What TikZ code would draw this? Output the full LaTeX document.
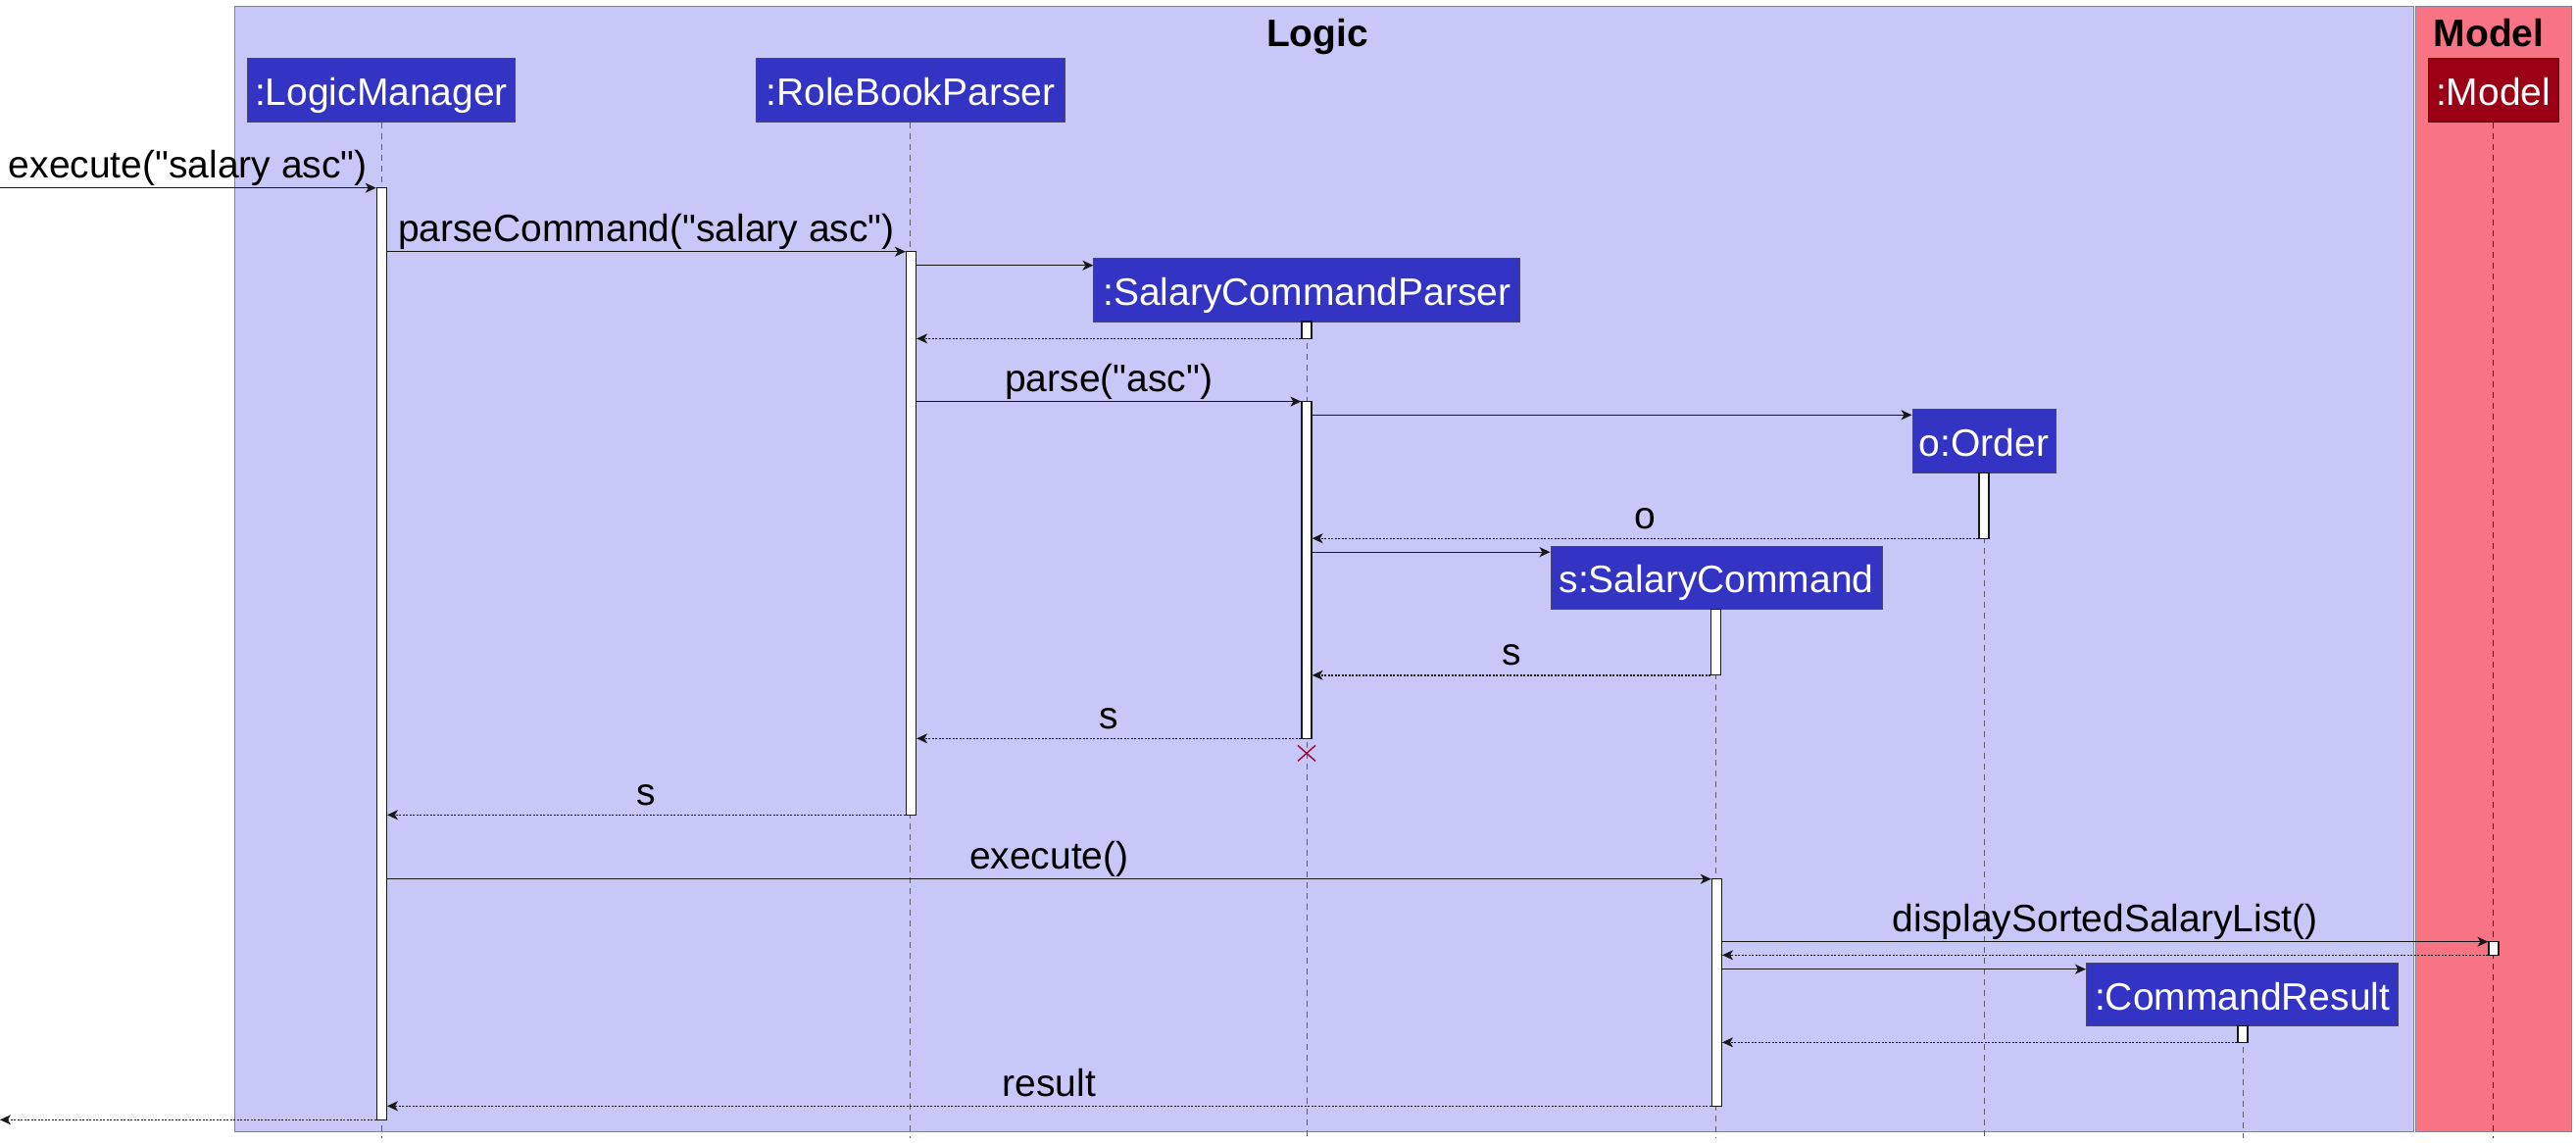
\documentclass[tikz,border=0pt]{standalone}
\usepackage{fontspec}
\setmainfont{Liberation Sans}[Ligatures=TeXOff]
\usetikzlibrary{arrows.meta}
\definecolor{logicbg}{RGB}{200,200,248}
\definecolor{modelbg}{RGB}{248,115,132}
\definecolor{partblue}{RGB}{51,51,196}
\definecolor{partred}{RGB}{155,0,20}
\definecolor{partborder}{RGB}{70,70,110}
\definecolor{groupborder}{RGB}{130,130,150}
\definecolor{lifegrey}{RGB}{90,90,110}
\definecolor{arrowc}{RGB}{24,24,24}
\definecolor{destroyc}{RGB}{168,0,54}
\begin{document}
\begin{tikzpicture}[x=1pt,y=-1pt,
  font=\fontsize{39}{45}\selectfont,
  part/.style={draw=partborder, line width=1pt, fill=partblue, text=white,
    minimum height=65pt, inner sep=0pt, text height=31pt, text depth=0pt},
  actbar/.style={draw=arrowc, fill=white, line width=1.2pt, minimum width=10pt, inner sep=0pt},
  lifeline/.style={draw=lifegrey, line width=0.9pt, dash pattern=on 6pt off 5pt},
  msg/.style={draw=arrowc, line width=1.4pt, -{Stealth[length=11pt,width=10pt,inset=3pt]}},
  ret/.style={msg, dash pattern=on 2pt off 1.5pt},
  lbl/.style={anchor=base, yshift=10pt, text=black}
]
\useasboundingbox (0,0) rectangle (2628,1166);
% groups
\node[draw=groupborder, line width=1.2pt, fill=logicbg, inner sep=0pt, anchor=north west,
  minimum width=2223pt, minimum height=1148pt] (logicgrp) at (238.5,6) {};
\node[draw=groupborder, line width=1.2pt, fill=modelbg, inner sep=0pt, anchor=north west,
  minimum width=159pt, minimum height=1148pt] (modelgrp) at (2464,6) {};
\node[anchor=base, font=\fontsize{39}{45}\selectfont\bfseries] (logictitle) at (1344,48) {Logic};
\node[anchor=base, font=\fontsize{39}{45}\selectfont\bfseries] (modeltitle) at (2539,48) {Model};
% row coordinates
\coordinate (r1) at (0,191.7);
\coordinate (r2) at (0,256.7);
\coordinate (r3) at (0,270.7);
\coordinate (r4) at (0,345.4);
\coordinate (r5) at (0,409.6);
\coordinate (r6) at (0,423.3);
\coordinate (r7) at (0,549.2);
\coordinate (r8) at (0,563.2);
\coordinate (r9) at (0,688.8);
\coordinate (r10) at (0,753.3);
\coordinate (r12) at (0,831.3);
\coordinate (r13) at (0,896.7);
\coordinate (r14) at (0,960.7);
\coordinate (r15) at (0,974.3);
\coordinate (r16) at (0,988.7);
\coordinate (r17) at (0,1063.3);
\coordinate (r18) at (0,1128.3);
\coordinate (r19) at (0,1142.3);
\coordinate (inL) at (0,191.7);
\coordinate (outL) at (0,1142.3);
% participant positions
\path
  (389,92.5) coordinate (lmc)
  (928.8,92.5) coordinate (rbc)
  (1333.4,296) coordinate (scpc)
  (2024,450) coordinate (ordc)
  (1751,589.2) coordinate (scc)
  (2287.7,1014.5) coordinate (crc)
  (2543.5,92.5) coordinate (mdc);
% lifelines
\draw[lifeline] (389,125) -- (389,1161);
\draw[lifeline] (928.8,125) -- (928.8,1161);
\draw[lifeline] (1333,328) -- (1333,1161);
\draw[lifeline] (2024,482) -- (2024,1161);
\draw[lifeline] (1750.6,621) -- (1750.6,1161);
\draw[lifeline] (2288,1046) -- (2288,1161);
\draw[lifeline, draw=partred!70!black] (2543.5,125) -- (2543.5,1161);
% participants
\node[part, minimum width=273.5pt] (lm) at (lmc) {:LogicManager};
\node[part, minimum width=314.4pt] (rb) at (rbc) {:RoleBookParser};
\node[part, minimum width=435pt, minimum height=64pt] (scp) at (scpc) {:SalaryCommandParser};
\node[part, minimum width=146pt, minimum height=64.5pt] (ord) at (ordc) {o:Order};
\node[part, minimum width=338pt, minimum height=64.4pt] (sc) at (scc) {s:SalaryCommand};
\node[part, minimum width=318.5pt, minimum height=64.4pt] (cr) at (crc) {:CommandResult};
\node[part, fill=partred, draw=partred!60!black, minimum width=133pt] (md) at (mdc) {:Model};
% activations
\node[actbar, minimum height=950.6pt] (lmA) at (389.3,667) {};
\node[actbar, minimum height=574.6pt] (rbA) at (929.5,544) {};
\node[actbar, minimum height=17.4pt] (scpA1) at (1333,336.7) {};
\node[actbar, minimum height=343.7pt] (scpA2) at (1333,581.45) {};
\node[actbar, minimum height=67pt] (ordA) at (2024,515.7) {};
\node[actbar, minimum height=67.4pt] (scA1) at (1750.6,655.1) {};
\node[actbar, minimum height=231.6pt] (scA2) at (1751.4,1012.5) {};
\node[actbar, minimum height=13.6pt] (mdA) at (2544,967.5) {};
\node[actbar, minimum height=16.6pt] (crA) at (2288,1055) {};
% messages
\draw[msg] (inL) -- (lmA.west |- r1) node[midway, lbl] {execute("salary asc")};
\draw[msg] (lmA.east |- r2) -- (rbA.west |- r2) node[midway, lbl] {parseCommand("salary asc")};
\draw[msg] (rbA.east |- r3) -- (scp.west |- r3);
\draw[ret] (scpA1.west |- r4) -- (rbA.east |- r4);
\draw[msg] (rbA.east |- r5) -- (scpA2.west |- r5) node[midway, lbl] {parse("asc")};
\draw[msg] (scpA2.east |- r6) -- (ord.west |- r6);
\draw[ret] (ordA.west |- r7) -- (scpA2.east |- r7) node[midway, lbl] {o};
\draw[msg] (scpA2.east |- r8) -- (sc.west |- r8);
\draw[ret] (scA1.west |- r9) -- (scpA2.east |- r9) node[midway, lbl] {s};
\draw[ret] (scpA2.west |- r10) -- (rbA.east |- r10) node[midway, lbl] {s};
\draw[ret] (rbA.west |- r12) -- (lmA.east |- r12) node[midway, lbl] {s};
\draw[msg] (lmA.east |- r13) -- (scA2.west |- r13) node[midway, lbl] {execute()};
\draw[msg] (scA2.east |- r14) -- (mdA.west |- r14) node[midway, lbl] {displaySortedSalaryList()};
\draw[ret] (mdA.west |- r15) -- (scA2.east |- r15);
\draw[msg] (scA2.east |- r16) -- (cr.west |- r16);
\draw[ret] (crA.west |- r17) -- (scA2.east |- r17);
\draw[ret] (scA2.west |- r18) -- (lmA.east |- r18) node[midway, lbl] {result};
\draw[ret] (lmA.west |- r19) -- (outL);
% destroy
\coordinate (dx) at (1333,768.4);
\draw[destroyc, line width=1.4pt] ([shift={(-9,-8)}]dx) -- ([shift={(9,8)}]dx)
  ([shift={(-9,8)}]dx) -- ([shift={(9,-8)}]dx);
\end{tikzpicture}
\end{document}
